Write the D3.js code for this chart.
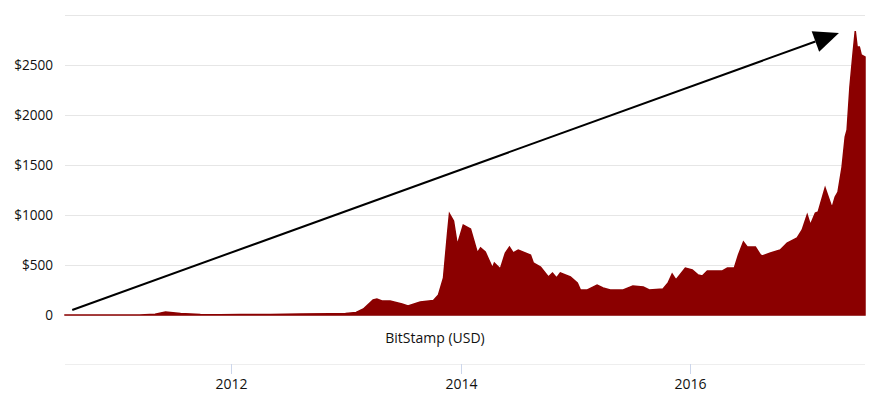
<!DOCTYPE html>
<html>
  <head>
    <meta charset="utf-8">
    <script src="https://d3js.org/d3.v7.min.js"></script>
    <title>BitStamp (USD)</title>
    <style>
      body { margin: 0; background: #fff; }
      text { font-family: "Open Sans", sans-serif; fill: #111; }
    </style>
  </head>
  <body>
    <svg id="chart" width="876" height="399"></svg>
    <script>
      // weekly-ish price samples
      var dates = ["2010-07-20","2010-11-10","2011-03-15","2011-05-03","2011-06-05","2011-07-23","2011-09-24","2011-11-26",
        "2012-01-29","2012-05-04","2012-08-08","2012-11-11","2012-12-29","2013-02-01","2013-02-24","2013-03-27",
        "2013-04-08","2013-04-24","2013-05-20","2013-06-27","2013-07-16","2013-08-24","2013-10-05","2013-10-21",
        "2013-11-06","2013-11-19","2013-11-25","2013-12-08","2013-12-20","2014-01-08","2014-01-31","2014-02-22",
        "2014-03-04","2014-03-19","2014-04-11","2014-04-17","2014-05-06","2014-05-22","2014-06-04","2014-06-16",
        "2014-07-02","2014-08-10","2014-08-19","2014-09-11","2014-10-06","2014-10-19","2014-11-01","2014-11-13",
        "2014-12-15","2015-01-06","2015-01-16","2015-02-07","2015-03-10","2015-03-29","2015-04-21","2015-06-01",
        "2015-07-02","2015-08-04","2015-08-23","2015-10-06","2015-10-22","2015-11-04","2015-11-16","2015-12-16",
        "2016-01-07","2016-01-26","2016-02-08","2016-02-24","2016-04-12","2016-04-28","2016-05-20","2016-06-02",
        "2016-06-18","2016-06-30","2016-07-26","2016-08-11","2016-08-17","2016-09-12","2016-10-13","2016-11-04",
        "2016-12-06","2016-12-22","2017-01-07","2017-01-17","2017-02-02","2017-02-11","2017-03-05","2017-03-27",
        "2017-04-06","2017-04-15","2017-04-28","2017-05-08","2017-05-14","2017-05-23","2017-06-02","2017-06-09",
        "2017-06-15","2017-06-22","2017-06-28","2017-07-10"];
      var prices = [0.1,0.3,1,8,30,14,6,3,
        6,5,11,12,14,25,60,150,
        160,140,140,110,90,130,145,200,
        370,820,1010,940,700,900,860,620,
        670,630,470,520,460,620,680,620,
        650,600,520,480,380,420,370,420,
        380,320,250,250,300,270,250,250,
        290,280,250,260,320,410,350,470,
        450,400,390,440,440,470,470,600,
        730,680,680,600,590,620,650,720,
        770,850,1000,900,1020,1030,1270,1070,
        1180,1230,1480,1780,1850,2280,2620,2840,
        2680,2680,2600,2580];
      var yTicks = [0, 500, 1000, 1500, 2000, 2500, 3000];
      var xTicks = ["2012-01-01", "2014-01-01", "2016-01-01"];
      var seriesName = "BitStamp (USD)";
      var arrowFrom = ["2010-08-12", 50], arrowTo = ["2017-04-18", 2820];

      var parse = d3.timeParse("%Y-%m-%d");
      var data = dates.map(function (d, i) { return { date: parse(d), price: prices[i] }; });

      var svg = d3.select("#chart"),
          plotLeft = 65, plotRight = 865, plotTop = 15, plotBottom = 315;

      var x = d3.scaleTime()
          .domain([parse(dates[0]), parse(dates[dates.length - 1])])
          .range([plotLeft, plotRight]);
      var y = d3.scaleLinear().domain([0, 3000]).range([plotBottom, plotTop]);

      // grid
      svg.append("g").selectAll("line")
        .data(yTicks).enter().append("line")
          .attr("x1", plotLeft).attr("x2", plotRight)
          .attr("y1", function (d) { return y(d) + 0.5; })
          .attr("y2", function (d) { return y(d) + 0.5; })
          .attr("stroke", "#e6e6e6");

      svg.append("g").selectAll("text")
        .data(yTicks.filter(function (d) { return d < 3000; })).enter().append("text")
          .attr("x", 53)
          .attr("y", function (d) { return y(d); })
          .attr("dy", "0.35em")
          .attr("text-anchor", "end")
          .style("font-size", "13.6px")
          .text(function (d) { return d === 0 ? "0" : "$" + d; });

      // area
      var area = d3.area()
          .x(function (d) { return x(d.date); })
          .y0(y(0))
          .y1(function (d) { return y(d.price); });
      svg.append("path")
          .datum(data)
          .attr("d", area)
          .attr("fill", "#8b0000")
          .attr("stroke", "#8b0000")
          .attr("stroke-width", 1.5);

      // legend
      svg.append("text")
          .attr("x", 435).attr("y", 338).attr("dy", "0.35em")
          .attr("text-anchor", "middle")
          .style("font-size", "14px")
          .text(seriesName);

      // x axis
      var axisY = 364;
      svg.append("line")
          .attr("x1", plotLeft).attr("x2", plotRight)
          .attr("y1", axisY + 0.5).attr("y2", axisY + 0.5)
          .attr("stroke", "#eeeeee");
      var xt = svg.append("g").selectAll("g")
        .data(xTicks.map(parse)).enter().append("g")
          .attr("transform", function (d) { return "translate(" + Math.round(x(d)) + ".5," + axisY + ")"; });
      xt.append("line").attr("y1", 0).attr("y2", 10).attr("stroke", "#ccd6eb");
      xt.append("text")
          .attr("y", 20).attr("dy", "0.35em")
          .attr("text-anchor", "middle")
          .style("font-size", "14px")
          .text(d3.timeFormat("%Y"));

      // arrow annotation
      var ax0 = x(parse(arrowFrom[0])), ay0 = y(arrowFrom[1]),
          ax1 = x(parse(arrowTo[0])), ay1 = y(arrowTo[1]);
      var ang = Math.atan2(ay1 - ay0, ax1 - ax0), len = 25, hw = 11;
      var bx = ax1 - len * Math.cos(ang), by = ay1 - len * Math.sin(ang);
      svg.append("line")
          .attr("x1", ax0).attr("y1", ay0).attr("x2", bx).attr("y2", by)
          .attr("stroke", "#000").attr("stroke-width", 2);
      svg.append("path")
          .attr("d", "M" + ax1 + "," + ay1 +
            "L" + (bx + hw * Math.sin(ang)) + "," + (by - hw * Math.cos(ang)) +
            "L" + (bx - hw * Math.sin(ang)) + "," + (by + hw * Math.cos(ang)) + "Z")
          .attr("fill", "#000");
    </script>
  </body>
</html>
